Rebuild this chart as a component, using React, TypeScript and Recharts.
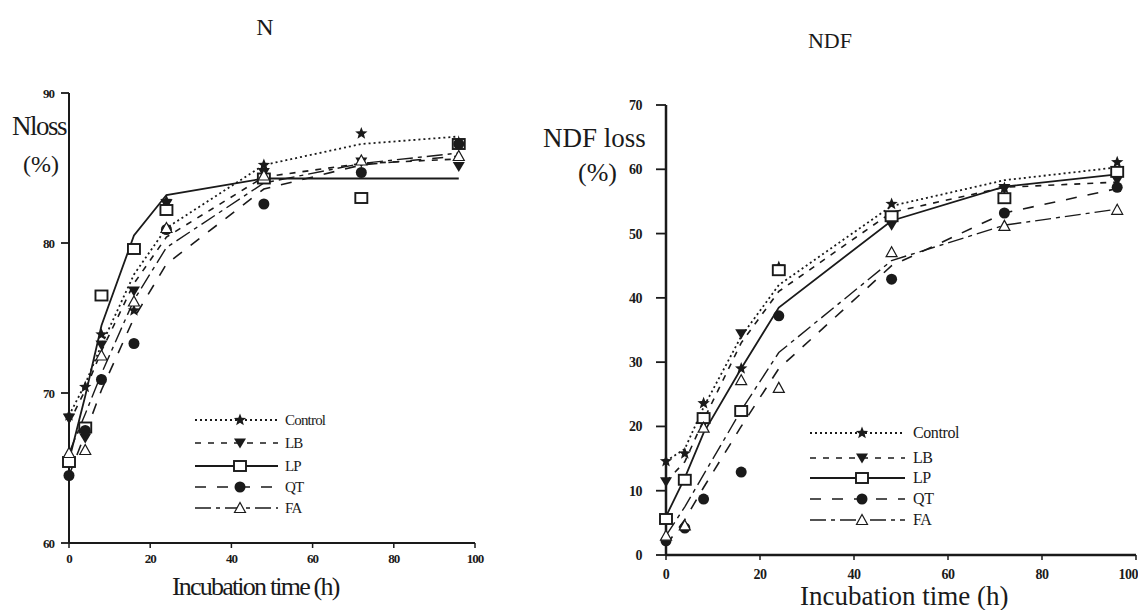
import React from 'react';
import { ComposedChart, Line, XAxis, YAxis, Legend } from 'recharts';

// sampling times (h)
const times = [0, 4, 8, 16, 24, 48, 72, 96];

// N loss (%) - observed
const nControl = [68.5, 70.4, 73.9, 75.5, 82.8, 85.2, 87.3, 86.7];
const nLB = [68.3, 67.0, 73.2, 76.8, 82.6, 84.7, 85.4, 85.1];
const nLP = [65.4, 67.7, 76.5, 79.6, 82.2, 84.3, 83.0, 86.6];
const nQT = [64.5, 67.5, 70.9, 73.3, 80.9, 82.6, 84.7, 86.6];
const nFA = [66.0, 66.2, 72.5, 76.1, 81.0, 84.5, 85.5, 85.8];

// N loss (%) - fitted
const nControlFit = [68.5, 70.6, 73.2, 77.9, 81.0, 85.2, 86.6, 87.1];
const nLBFit = [68.0, 70.2, 72.8, 77.3, 80.4, 84.4, 85.3, 85.6];
const nLPFit = [65.5, 69.8, 74.5, 80.5, 83.2, 84.3, 84.3, 84.3];
const nQTFit = [64.5, 67.3, 70.2, 75.0, 78.6, 83.6, 85.2, 85.8];
const nFAFit = [66.0, 68.6, 71.3, 76.2, 79.7, 84.0, 85.3, 86.0];

// NDF loss (%) - observed
const dControl = [14.6, 15.8, 23.6, 29.0, 44.8, 54.6, 57.1, 61.1];
const dLB = [11.4, 11.7, 20.5, 34.4, 44.5, 51.3, 57.0, 58.3];
const dLP = [5.6, 11.7, 21.3, 22.4, 44.3, 52.7, 55.5, 59.6];
const dQT = [2.2, 4.2, 8.7, 12.9, 37.2, 42.9, 53.2, 57.2];
const dFA = [3.0, 4.6, 19.8, 27.2, 26.0, 47.1, 51.2, 53.7];

// NDF loss (%) - fitted
const dControlFit = [14.6, 16.5, 23.0, 34.0, 42.0, 54.3, 58.3, 60.3];
const dLBFit = [11.4, 14.5, 21.0, 33.0, 41.0, 53.3, 57.2, 58.0];
const dLPFit = [6.0, 12.0, 19.0, 29.0, 38.5, 52.0, 57.3, 59.2];
const dQTFit = [1.5, 5.5, 10.5, 20.0, 29.0, 45.0, 53.2, 57.0];
const dFAFit = [3.0, 7.5, 12.5, 22.5, 31.5, 45.8, 51.3, 53.8];

const xTicks = [0, 20, 40, 60, 80, 100];
const nTicks = [60, 70, 80, 90];
const dTicks = [0, 10, 20, 30, 40, 50, 60, 70];

const treatments = ['Control', 'LB', 'LP', 'QT', 'FA'];

const INK = '#1a1a1a';
const SERIF = '"Liberation Serif", "DejaVu Serif", serif';

type Kind = 'star' | 'triDown' | 'square' | 'circle' | 'triUp';

const styles: { [k: string]: { kind: Kind; dash?: string; width: number } } = {
    Control: { kind: 'star', dash: '2 3', width: 1.8 },
    LB: { kind: 'triDown', dash: '6 7', width: 1.6 },
    LP: { kind: 'square', width: 1.8 },
    QT: { kind: 'circle', dash: '11 11', width: 1.6 },
    FA: { kind: 'triUp', dash: '16 5 4 5', width: 1.4 },
};

const buildTable = (obs: number[][], fit: number[][]) =>
    times.map((t, i) => {
        const row: any = { t };
        treatments.forEach((name, k) => {
            row[name] = obs[k][i];
            row[name + 'Fit'] = fit[k][i];
        });
        return row;
    });

const nData = buildTable([nControl, nLB, nLP, nQT, nFA], [nControlFit, nLBFit, nLPFit, nQTFit, nFAFit]);
const dData = buildTable([dControl, dLB, dLP, dQT, dFA], [dControlFit, dLBFit, dLPFit, dQTFit, dFAFit]);

const Marker = ({ cx, cy, kind }: { cx?: number; cy?: number; kind: Kind }) => {
    if (cx == null || cy == null || isNaN(cx) || isNaN(cy)) return null;
    if (kind === 'star') {
        const pts: string[] = [];
        for (let i = 0; i < 10; i++) {
            const r = i % 2 === 0 ? 6.5 : 2.8;
            const a = -Math.PI / 2 + (i * Math.PI) / 5;
            pts.push(`${cx + r * Math.cos(a)},${cy + r * Math.sin(a)}`);
        }
        return <polygon points={pts.join(' ')} fill={INK} />;
    }
    if (kind === 'triDown') {
        return <polygon points={`${cx - 6},${cy - 4.5} ${cx + 6},${cy - 4.5} ${cx},${cy + 5.5}`} fill={INK} />;
    }
    if (kind === 'square') {
        return <rect x={cx - 6} y={cy - 5} width={12} height={10} fill="#fff" stroke={INK} strokeWidth={1.9} />;
    }
    if (kind === 'circle') {
        return <circle cx={cx} cy={cy} r={5.5} fill={INK} />;
    }
    return <polygon points={`${cx - 5.5},${cy + 4.5} ${cx + 5.5},${cy + 4.5} ${cx},${cy - 5.5}`} fill="#fff" stroke={INK} strokeWidth={1.2} />;
};

const LegendBox = ({ rows, lineEnd, mid, textX, fontSize, spacing }: any) => (
    <svg width={180} height={112} style={{ overflow: 'visible' }}>
        {treatments.map((name, i) => {
            const s = styles[name];
            const y = rows[i];
            return (
                <g key={name}>
                    <line x1={5} x2={lineEnd} y1={y} y2={y} stroke={INK} strokeWidth={s.width} strokeDasharray={s.dash} />
                    <Marker cx={mid} cy={y} kind={s.kind} />
                    <text x={textX} y={y + 5} fontFamily={SERIF} fontSize={fontSize} letterSpacing={spacing} fill={INK}>
                        {name}
                    </text>
                </g>
            );
        })}
    </svg>
);

const renderSeries = (prefix: string) =>
    treatments.flatMap((name) => {
        const s = styles[name];
        return [
            <Line
                key={prefix + name + 'Fit'}
                dataKey={name + 'Fit'}
                type="linear"
                stroke={INK}
                strokeWidth={s.width}
                strokeDasharray={s.dash}
                dot={false}
                activeDot={false}
                isAnimationActive={false}
            />,
            <Line
                key={prefix + name}
                dataKey={name}
                stroke="none"
                dot={(p: any) => <Marker key={prefix + name + p.index} cx={p.cx} cy={p.cy} kind={s.kind} />}
                activeDot={false}
                isAnimationActive={false}
            />,
        ];
    });

const tickStyle = (size: number, spacing: number) => ({
    fontFamily: SERIF,
    fontSize: size,
    fontWeight: 700,
    fill: INK,
    letterSpacing: spacing,
});

const App: React.FC = () => {
    return (
        <div style={{ position: 'absolute', left: 0, top: 0, width: 1138, height: 610, overflow: 'hidden', background: '#fff' }}>
            <div style={{ position: 'absolute', left: 0, top: 0 }}>
                <ComposedChart width={560} height={610} data={nData} margin={{ top: 93, right: 85, left: 29, bottom: 37 }}>
                    <XAxis
                        dataKey="t"
                        type="number"
                        domain={[0, 100]}
                        ticks={xTicks}
                        height={30}
                        axisLine={{ stroke: INK, strokeWidth: 2 }}
                        tickLine={{ stroke: INK, strokeWidth: 1.5 }}
                        tickSize={5}
                        tickMargin={6}
                        tick={tickStyle(13, -1)}
                    />
                    <YAxis
                        type="number"
                        domain={[60, 90]}
                        ticks={nTicks}
                        width={40}
                        axisLine={{ stroke: INK, strokeWidth: 2 }}
                        tickLine={{ stroke: INK, strokeWidth: 1.8 }}
                        tickSize={8}
                        tickMargin={7}
                        tick={tickStyle(13, -1)}
                    />
                    {renderSeries('n')}
                    <Legend
                        layout="vertical"
                        align="center"
                        verticalAlign="middle"
                        wrapperStyle={{ left: 190, top: 410, width: 180, height: 112 }}
                        content={() => (
                            <LegendBox rows={[10, 33, 56, 77, 98]} lineEnd={88} mid={50} textX={95} fontSize={15} spacing={-0.8} />
                        )}
                    />
                </ComposedChart>
            </div>
            <div style={{ position: 'absolute', left: 560, top: 0 }}>
                <ComposedChart width={578} height={610} data={dData} margin={{ top: 105, right: 2, left: 66, bottom: 25 }}>
                    <XAxis
                        dataKey="t"
                        type="number"
                        domain={[0, 100]}
                        ticks={xTicks}
                        height={30}
                        axisLine={{ stroke: INK, strokeWidth: 2.5 }}
                        tickLine={{ stroke: INK, strokeWidth: 1.5 }}
                        tickSize={5}
                        tickMargin={9}
                        tick={tickStyle(14, -0.5)}
                    />
                    <YAxis
                        type="number"
                        domain={[0, 70]}
                        ticks={dTicks}
                        width={40}
                        axisLine={{ stroke: INK, strokeWidth: 2.5 }}
                        tickLine={{ stroke: INK, strokeWidth: 1.8 }}
                        tickSize={10}
                        tickMargin={14}
                        tick={tickStyle(14, -0.5)}
                    />
                    {renderSeries('d')}
                    <Legend
                        layout="vertical"
                        align="center"
                        verticalAlign="middle"
                        wrapperStyle={{ left: 245, top: 423, width: 180, height: 112 }}
                        content={() => (
                            <LegendBox rows={[10, 35, 55, 76, 97]} lineEnd={100} mid={57} textX={108} fontSize={16} spacing={-0.4} />
                        )}
                    />
                </ComposedChart>
            </div>
            <svg width={1138} height={610} style={{ position: 'absolute', left: 0, top: 0, pointerEvents: 'none' }}>
                <g fontFamily={SERIF} fill={INK}>
                    <text x={265} y={35} fontSize={24} textAnchor="middle">N</text>
                    <text x={830} y={48} fontSize={22} textAnchor="middle">NDF</text>
                    <text x={12} y={135} fontSize={27} letterSpacing={-1.5}>Nloss</text>
                    <text x={23} y={172} fontSize={24}>(%)</text>
                    <text x={543} y={147} fontSize={27}>NDF loss</text>
                    <text x={578} y={181} fontSize={26}>(%)</text>
                    <text x={172} y={595} fontSize={26} letterSpacing={-1.8}>Incubation time (h)</text>
                    <text x={800} y={605} fontSize={27}>Incubation time (h)</text>
                </g>
            </svg>
        </div>
    );
};

export default App;
